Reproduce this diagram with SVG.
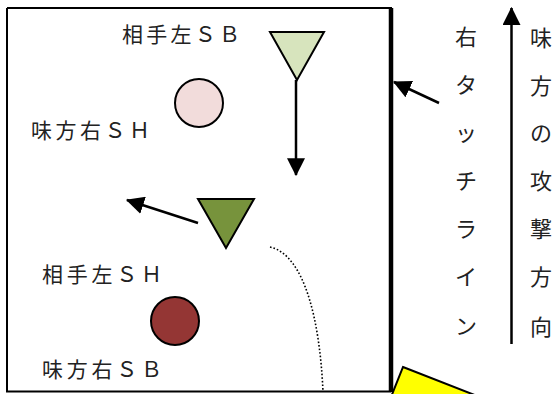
<svg xmlns="http://www.w3.org/2000/svg" width="555" height="394" viewBox="0 0 555 394">
<defs>
<style>
.lbl{font-family:"Noto Sans CJK JP","Noto Sans",sans-serif;font-size:21px;fill:#222}
.vt{font-family:"Noto Sans CJK JP","Noto Sans",sans-serif;font-size:22px;fill:#222;text-anchor:middle;dominant-baseline:central}
.ln{stroke:#000;stroke-width:2.5;fill:none}
.nd{stroke:#000;stroke-width:2}
</style>
<marker id="ah" markerUnits="userSpaceOnUse" markerWidth="18" markerHeight="18" viewBox="0 0 16 16" refX="15" refY="8" orient="auto">
<path d="M0,0 L16,8 L0,16 Z" fill="#000"/>
</marker>
</defs>
<rect width="555" height="394" fill="#fff"/>
<g id="field">
<path d="M7,8 H392" stroke="#000" stroke-width="2" fill="none"/>
<path d="M7,8 V391.5 H391" stroke="#000" stroke-width="2" fill="none"/>
<path d="M391,8 V392" stroke="#000" stroke-width="4.5"/>
</g>
<g id="yellow">
<polygon points="403,367 600,444 580,494 383,417" fill="#ffff00" stroke="#000" stroke-width="2"/>
</g>
<g id="connectors">
<line class="ln" x1="296" y1="80" x2="296" y2="175" marker-end="url(#ah)"/>
<line class="ln" x1="198" y1="223" x2="127" y2="200" marker-end="url(#ah)"/>
<line class="ln" x1="439" y1="103" x2="394" y2="82" marker-end="url(#ah)"/>
<line class="ln" x1="511.5" y1="344" x2="511.5" y2="8" marker-end="url(#ah)"/>
<path d="M270,247 C305,255 320,322 323,392" fill="none" stroke="#000" stroke-width="1.6" stroke-dasharray="1.6 2"/>
</g>
<g id="opp-sb">
<polygon class="nd" points="270,32 324,32 297,80" fill="#d7e4bd"/>
<text class="lbl" x="122" y="41.5" textLength="118" lengthAdjust="spacing">相手左ＳＢ</text>
</g>
<g id="our-sh">
<circle class="nd" cx="199" cy="103" r="24" fill="#f2dcdb"/>
<text class="lbl" x="31" y="137.5" textLength="119" lengthAdjust="spacing">味方右ＳＨ</text>
</g>
<g id="opp-sh">
<polygon class="nd" points="198,199 254,199 226,248" fill="#77933c"/>
<text class="lbl" x="42" y="281.5" textLength="120" lengthAdjust="spacing">相手左ＳＨ</text>
</g>
<g id="our-sb">
<circle class="nd" cx="175" cy="321" r="24" fill="#943634"/>
<text class="lbl" x="42" y="376.5" textLength="120" lengthAdjust="spacing">味方右ＳＢ</text>
</g>
<g id="touchline-label">
<text class="vt" x="466" y="35">右</text>
<text class="vt" x="466" y="83">タ</text>
<text class="vt" x="466" y="131">ッ</text>
<text class="vt" x="466" y="179">チ</text>
<text class="vt" x="466" y="227">ラ</text>
<text class="vt" x="466" y="275">イ</text>
<text class="vt" x="466" y="324">ン</text>
</g>
<g id="attack-label">
<text class="vt" x="541" y="36">味</text>
<text class="vt" x="541" y="84">方</text>
<text class="vt" x="541" y="131">の</text>
<text class="vt" x="541" y="179">攻</text>
<text class="vt" x="541" y="227">撃</text>
<text class="vt" x="541" y="275">方</text>
<text class="vt" x="541" y="325">向</text>
</g>
</svg>
